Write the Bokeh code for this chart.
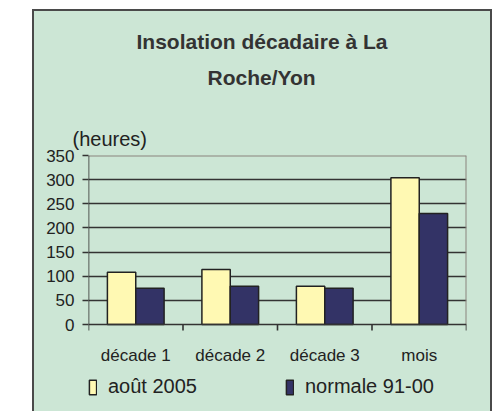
from bokeh.plotting import figure
from bokeh.models import (Range1d, LinearAxis, FixedTicker, Title,
                          Legend, LegendItem, ColumnDataSource, Grid)
from bokeh.core.properties import value
from bokeh.transform import dodge
from bokeh.embed import file_html
from bokeh.resources import INLINE

# ---- data ----
categories = ["décade 1", "décade 2", "décade 3", "mois"]
aout_2005 = [108, 114, 79, 304]
normale_91_00 = [75, 79, 75, 230]
y_ticks = [0, 50, 100, 150, 200, 250, 300, 350]
title_lines = ["Insolation décadaire à La", "Roche/Yon"]
unit_label = "(heures)"
series_names = ["août 2005", "normale 91-00"]

FONT = "Liberation Sans"
GREEN = "#cce6d5"
YELLOW = "#fff9b3"
NAVY = "#333366"
DARK = "#333333"
EDGE = "#4a4a4a"
FRAME_GREY = "#8a837f"

n = len(categories)
slot_centers = [i + 0.5 for i in range(n)]
slot_edges = list(range(n + 1))
y_max = y_ticks[-1]

# page geometry (pixels): plot top, zero line, bottom of the drawing area
plot_top, zero_px, page_bottom = 155, 324, 411
units_per_px = y_max / (zero_px - plot_top)
y_start = -(page_bottom - zero_px) * units_per_px
tick_len = 6 * units_per_px
label_y = -31 * units_per_px

# green panel with its dark border, painted behind the (transparent) canvas border area
panel_bg = ", ".join([
    f"linear-gradient({EDGE}, {EDGE}) 32px 9px / 460px 2px no-repeat",
    f"linear-gradient({EDGE}, {EDGE}) 32px 9px / 2px 402px no-repeat",
    f"linear-gradient({EDGE}, {EDGE}) 490px 9px / 2px 402px no-repeat",
    f"linear-gradient({GREEN}, {GREEN}) 32px 9px / 460px 402px no-repeat",
])

p = figure(width=502, height=411,
           x_range=Range1d(0, n),
           y_range=Range1d(y_start, y_max),
           output_backend="svg", toolbar_location=None,
           x_axis_location=None, y_axis_location=None,
           min_border_left=88, min_border_right=36,
           min_border_top=plot_top, min_border_bottom=0,
           background_fill_color=GREEN, border_fill_alpha=0,
           outline_line_color=None,
           styles={"background": panel_bg})
p.xgrid.visible = False
p.ygrid.visible = False

grid = Grid(dimension=1, ticker=FixedTicker(ticks=y_ticks[1:-1]),
            grid_line_color=DARK, grid_line_width=1.6)
p.add_layout(grid)

# grey top and right edges of the plot area
p.segment(x0=[0, n], y0=[y_max, 0], x1=[n, n], y1=[y_max, y_max],
          line_color=FRAME_GREY, line_width=2)

# ---- bars ----
src = ColumnDataSource(dict(pos=slot_centers, cat=categories,
                            aout=aout_2005, normale=normale_91_00))
r1 = p.vbar(x=dodge("pos", -0.15), top="aout", width=0.3, source=src,
            fill_color=YELLOW, line_color="#222222", line_width=1.5)
r2 = p.vbar(x=dodge("pos", 0.15), top="normale", width=0.3, source=src,
            fill_color=NAVY, line_color="#222222", line_width=1.5)

# ---- category axis: line, ticks between categories, labels ----
p.segment(x0=[0], y0=[0], x1=[n], y1=[0], line_color=DARK, line_width=1.6)
p.segment(x0=slot_edges, y0=[0] * len(slot_edges), x1=slot_edges,
          y1=[-tick_len] * len(slot_edges), line_color=DARK, line_width=1.6)
p.text(x="pos", y=label_y, text="cat", source=src,
       text_font=value(FONT), text_font_size="17px", text_color="#222222",
       text_align="center", text_baseline="middle")

# ---- value axis ----
p.segment(x0=[0], y0=[0], x1=[0], y1=[y_max], line_color=DARK, line_width=1.6)
yaxis = LinearAxis(ticker=FixedTicker(ticks=y_ticks),
                   axis_line_color=None,
                   major_tick_in=0, major_tick_out=6,
                   major_tick_line_color=DARK, major_tick_line_width=1.6,
                   minor_tick_line_color=None,
                   major_label_text_font=FONT, major_label_text_font_size="17px",
                   major_label_text_color="#222222", major_label_standoff=8)
p.add_layout(yaxis, "left")

# ---- legend ----
legend = Legend(items=[LegendItem(label=series_names[0], renderers=[r1]),
                       LegendItem(label=series_names[1], renderers=[r2])],
                orientation="horizontal", location=(0, 13),
                glyph_width=9, glyph_height=18, label_standoff=11, spacing=88,
                padding=0, margin=0, background_fill_alpha=0, border_line_color=None,
                label_text_font=FONT, label_text_font_size="20px",
                label_text_color="#222222")
p.add_layout(legend)

# ---- titles above the plot area (closest to the frame first) ----
p.add_layout(Title(text=unit_label, align="left", offset=-16,
                   text_font=FONT, text_font_style="normal", text_font_size="20px",
                   text_color="#222222", standoff=12), "above")
p.add_layout(Title(text=" ", align="left", text_font_size="1px", standoff=23), "above")
p.add_layout(Title(text=title_lines[1], align="left", offset=119,
                   text_font=FONT, text_font_style="bold", text_font_size="21px",
                   text_color="#333333", standoff=10), "above")
p.add_layout(Title(text=title_lines[0], align="left", offset=48,
                   text_font=FONT, text_font_style="bold", text_font_size="21px",
                   text_color="#333333", standoff=11), "above")

open("out.html", "w").write(file_html(p, INLINE))
